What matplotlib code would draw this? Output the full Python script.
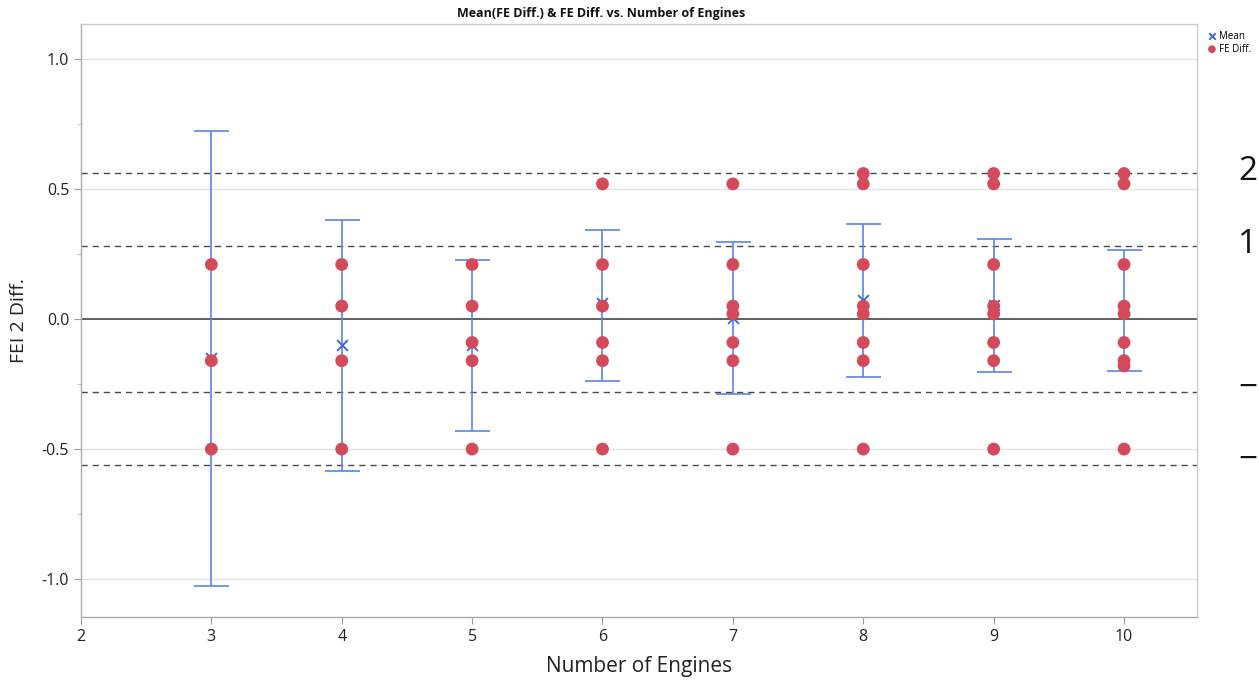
import matplotlib
matplotlib.use('Agg')
import matplotlib.pyplot as plt
from matplotlib.ticker import MultipleLocator

plt.rcParams['font.family'] = ['Open Sans', 'DejaVu Sans']

# 데이터
engines = [3, 4, 5, 6, 7, 8, 9, 10]
fe_points = [
    [0.21, -0.16, -0.50],
    [0.21, 0.05, -0.16, -0.50],
    [0.21, 0.05, -0.09, -0.16, -0.50],
    [0.52, 0.21, 0.05, -0.09, -0.16, -0.50],
    [0.52, 0.21, 0.05, 0.02, -0.09, -0.16, -0.50],
    [0.56, 0.52, 0.21, 0.05, 0.02, -0.09, -0.16, -0.50],
    [0.56, 0.52, 0.21, 0.05, 0.02, -0.09, -0.16, -0.50],
    [0.56, 0.52, 0.21, 0.05, 0.02, -0.09, -0.16, -0.18, -0.50],
]
mean_vals = [-0.15, -0.10, -0.10, 0.06, 0.005, 0.075, 0.055, 0.035]
ci_low = [-1.026, -0.585, -0.431, -0.237, -0.287, -0.222, -0.203, -0.199]
ci_high = [0.722, 0.381, 0.227, 0.342, 0.297, 0.367, 0.309, 0.265]
limit_lines = [0.56, 0.28, -0.28, -0.56]
side_labels = ['2', '1', '\u2212', '\u2212']

red = '#d44a5a'
blue = '#5a84e6'

fig = plt.figure(figsize=(12.59, 6.8), dpi=100)
ax = fig.add_axes([0.0643, 0.0926, 0.8865, 0.8721])

# 격자 및 기준선
for yv in [-1.0, -0.5, 0.5, 1.0]:
    ax.axhline(yv, color='#e3e3e3', lw=1, zorder=0)
ax.axhline(0, color='#444444', lw=1.2, zorder=1)
for yv in limit_lines:
    ax.axhline(yv, color='#4a4a4a', lw=1, dashes=(4.5, 3.5), zorder=1)

# 신뢰구간 에러바
for x, m, lo, hi in zip(engines, mean_vals, ci_low, ci_high):
    ax.errorbar([x], [m], yerr=[[m - lo], [hi - m]], fmt='none', ecolor=blue,
                elinewidth=1.2, capsize=12.6, capthick=1.2, zorder=2)

ax.scatter(engines, mean_vals, marker='x', color='#3d6ad6', s=60, linewidths=1.4,
           zorder=3, label='Mean')

first = True
for x, pts in zip(engines, fe_points):
    ax.scatter([x] * len(pts), pts, color=red, s=85, edgecolors='none', zorder=4,
               label='FE Diff.' if first else None)
    first = False

ax.set_xlim(2, 10.56)
ax.set_ylim(-1.146, 1.135)
ax.set_xticks(range(2, 11))
ax.set_yticks([-1.0, -0.5, 0.0, 0.5, 1.0])
ax.set_yticklabels(['-1.0', '-0.5', '0.0', '0.5', '1.0'])
ax.yaxis.set_minor_locator(MultipleLocator(0.25))
ax.tick_params(axis='both', which='major', labelsize=11.5, color='#999999', length=5,
               labelcolor='#222222')
ax.tick_params(axis='y', which='minor', color='#bbbbbb', length=3)
for s in ax.spines.values():
    s.set_color('#aaaaaa')
    s.set_linewidth(1)
ax.spines['top'].set_color('#cccccc')
ax.spines['right'].set_color('#cccccc')

ax.set_xlabel('Number of Engines', fontsize=15, color='#222222', labelpad=8)
ax.set_ylabel('FEI 2 Diff.', fontsize=14, color='#222222')
ax.yaxis.set_label_coords(-0.0474, 0.5)

fig.text(601 / 1259, 1 - 14 / 680, 'Mean(FE Diff.) & FE Diff. vs. Number of Engines',
         ha='center', va='center', fontsize=9, fontweight='bold', color='#111111')

ax.legend(loc='upper left', bbox_to_anchor=(1.002, 1.0), frameon=False, fontsize=7,
          handletextpad=0.1, borderaxespad=0.3, labelspacing=0.2, markerscale=0.6,
          handlelength=1.2)

# 오른쪽 레이블
side_y = [171, 244, 388, 460]
for lab, py in zip(side_labels, side_y):
    fig.text(1238 / 1259, 1 - py / 680, lab, fontsize=24, ha='left', va='center',
             color='#111111')

plt.savefig('out.png', dpi=100)
